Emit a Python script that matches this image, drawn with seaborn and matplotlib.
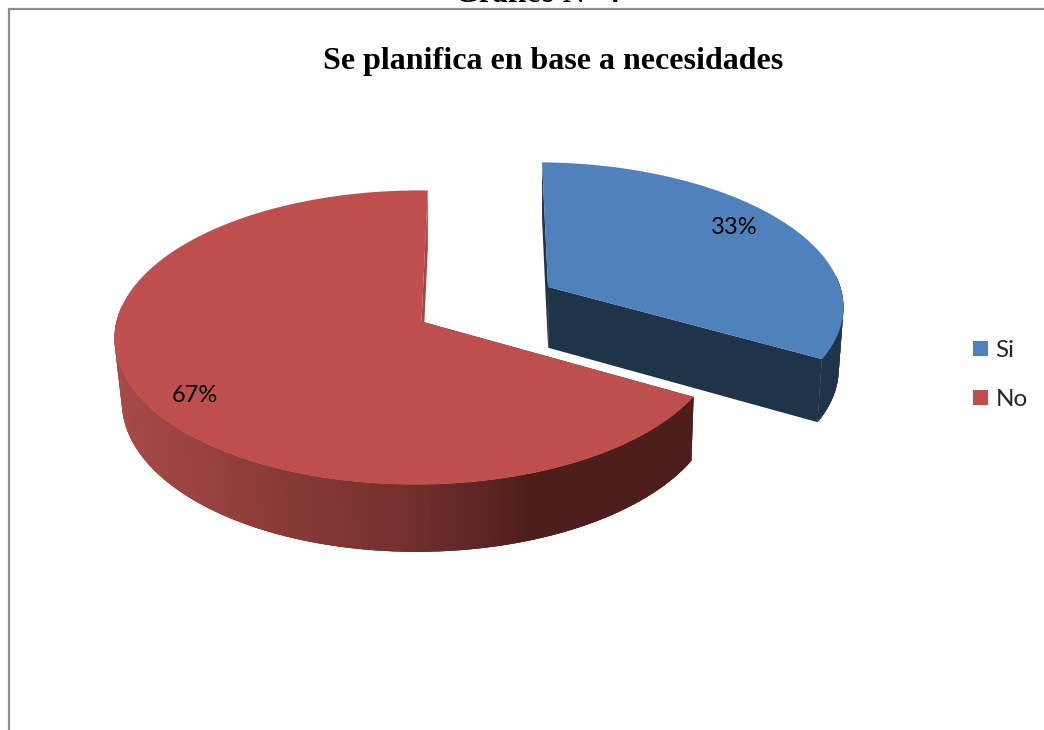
import numpy as np
import matplotlib
matplotlib.use("Agg")
import matplotlib.pyplot as plt
from matplotlib.patches import Polygon, Patch
from matplotlib.colors import to_rgb
import seaborn as sns

# Survey result
categories = ["Si", "No"]
shares = [33, 67]
label_text = ["33%", "67%"]
chart_title = "Se planifica en base a necesidades"
page_heading = "Gráfico N° 4"

sns.set_theme(style="white")
plt.rcParams["font.family"] = ["Lato", "DejaVu Sans"]
top_colors = sns.color_palette(["#4F81BD", "#BE4F4C"])

# Perspective model of the tilted disc, in pixel units
X0, Y0 = 421.5, 321.5
A, B = 301.0, 145.3
SKEW_X, SKEW_Y = 7.0, -2.5
PERSP_Y = 0.109
PERSP_X = [0.0, 0.0109]
DEPTH = 62.0
VANISH_X, SHRINK = 560.0, 0.9835
EXPLODE = [0.495, 0.0]


def top_point(u, v, m):
    w = 1 + PERSP_Y * v + m * u
    return X0 + (A * u + SKEW_X * v) / w, Y0 - (B * v + SKEW_Y * u) / w, w


def base_point(u, v, m, shift=True):
    x, y, w = top_point(u, v, m)
    if shift:
        x = VANISH_X + (x - VANISH_X) * SHRINK
    return x, y + DEPTH / w ** 0.7


def wedge_coords(start_deg, end_deg, offset, n=240):
    mid = np.radians((start_deg + end_deg) / 2)
    ou, ov = offset * np.sin(mid), offset * np.cos(mid)
    t = np.radians(np.linspace(start_deg, end_deg, n))
    return ou, ov, ou + np.sin(t), ov + np.cos(t), np.sin(t), np.cos(t)


def side_colour(x, stops):
    xs = [s[0] for s in stops]
    cols = np.array([to_rgb(s[1]) for s in stops])
    return tuple(np.interp(x, xs, cols[:, i]) for i in range(3))


red_side = [(115, "#A64B47"), (250, "#8E3C39"), (400, "#73302E"),
            (530, "#4D1E1C"), (700, "#4D1E1C")]
blue_side = [(500, "#1F3349"), (900, "#1F3349")]
side_stops = [blue_side, red_side]
back_wall_colours = ["#1F3349", "#A04644"]

fig = plt.figure(figsize=(10.44, 7.30), dpi=100)
ax = fig.add_axes([0, 0, 1, 1])
ax.set_xlim(0, 1044)
ax.set_ylim(730, 0)
ax.axis("off")

# Frame of the chart area, open at the right and the bottom
ax.plot([9, 9, 1044], [730, 9, 9], color="#8E8E8E", lw=1.6,
        solid_joinstyle="miter", zorder=1)

start = 0.0
for i, share in enumerate(shares):
    end = start + 360.0 * share / sum(shares)
    m = PERSP_X[i]
    ou, ov, us, vs, ru, rv = wedge_coords(start, end, EXPLODE[i])
    z = 2 + i
    apex = top_point(ou, ov, m)[:2]

    # Flat cut walls: the one facing away keeps its x, the front one follows the rim
    for k in (0, -1):
        edge_top = top_point(us[k], vs[k], m)[:2]
        is_back = rv[k] > 0
        wall = [apex, edge_top, base_point(us[k], vs[k], m, shift=not is_back),
                base_point(ou, ov, m, shift=not is_back)]
        col = back_wall_colours[i] if is_back else side_colour(edge_top[0], side_stops[i])
        ax.add_patch(Polygon(wall, closed=True, fc=col, ec="none", zorder=z))

    # Curved rim: only the front of it shows. A plain underlay closes the seams
    # between the shaded strips drawn on top of it.
    front = np.where(rv <= 0.1)[0]
    upper = [top_point(us[j], vs[j], m)[:2] for j in front]
    lower = [base_point(us[j], vs[j], m) for j in front[::-1]]
    mid_x = np.mean([p[0] for p in upper])
    ax.add_patch(Polygon(upper + lower, closed=True, fc=side_colour(mid_x, side_stops[i]),
                         ec="none", zorder=z))
    for j in front[:-2]:
        a, b = top_point(us[j], vs[j], m)[:2], top_point(us[j + 2], vs[j + 2], m)[:2]
        c, d = base_point(us[j + 2], vs[j + 2], m), base_point(us[j], vs[j], m)
        col = side_colour((a[0] + b[0]) / 2, side_stops[i])
        ax.add_patch(Polygon([a, b, c, d], closed=True, fc=col, ec="none", zorder=z))

    # Upper face
    face = [apex] + [top_point(u, v, m)[:2] for u, v in zip(us, vs)]
    ax.add_patch(Polygon(face, closed=True, fc=top_colors[i], ec="none", zorder=z + 0.5))
    start = end

# Percentage labels
label_xy = [(734.5, 228), (194.5, 396)]
for txt, (lx, ly) in zip(label_text, label_xy):
    ax.text(lx, ly, txt, fontsize=17, color="black", ha="center", va="center", zorder=6)

ax.text(553, 62, chart_title, family="Liberation Serif", weight="bold",
        fontsize=23, color="black", ha="center", va="center", zorder=6)
ax.text(537, 2, page_heading, family="Liberation Serif", weight="bold",
        fontsize=22, color="black", ha="center", va="baseline", zorder=6)

handles = [Patch(fc=c, ec="none") for c in top_colors]
ax.legend(handles, categories, loc="center left", bbox_to_anchor=(973 / 1044, 1 - 375 / 730),
          frameon=False, fontsize=17.5, handlelength=0.62, handleheight=0.62,
          handletextpad=0.3, labelspacing=1.15, borderpad=0, borderaxespad=0)

fig.savefig("out.png", dpi=100, facecolor="white")
